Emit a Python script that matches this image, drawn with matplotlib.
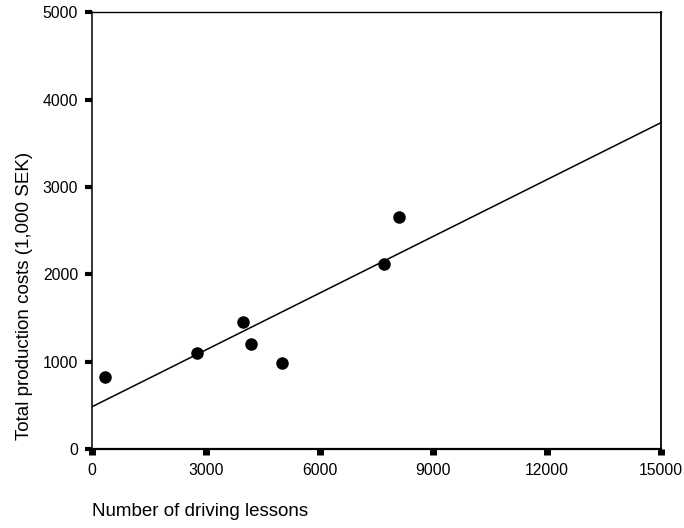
import numpy as np
import matplotlib
matplotlib.use("Agg")
import matplotlib.pyplot as plt

plt.rcParams['font.family'] = ['Liberation Sans', 'DejaVu Sans']

# driving school data: lessons given vs. total production costs
lessons = [343, 2776, 3990, 4183, 5000, 7698, 8094]
costs = [821, 1103, 1455, 1199, 985, 2119, 2661]

x_ticks = [0, 3000, 6000, 9000, 12000, 15000]
y_ticks = [0, 1000, 2000, 3000, 4000, 5000]

fig = plt.figure(figsize=(6.84, 5.28), dpi=100)
ax = fig.add_axes([0.1345, 0.1496, 0.8319, 0.8271])

# least squares line across the full x range
slope, intercept = np.polyfit(lessons, costs, 1)
xs = np.array([0, 15000])
ax.plot(xs, intercept + slope * xs, color='black', lw=1.1, zorder=2)

ax.plot(lessons, costs, 'o', color='black', ms=8, zorder=3, clip_on=False)

ax.set_xlim(0, 15000)
ax.set_ylim(0, 5000)
ax.set_xticks(x_ticks)
ax.set_yticks(y_ticks)

for side, w in [('bottom', 1.6), ('left', 1.1), ('top', 1.0), ('right', 1.3)]:
    ax.spines[side].set_linewidth(w)
    ax.spines[side].set_color('black')

ax.tick_params(axis='x', direction='out', length=4, width=5, pad=6, labelsize=11.3)
ax.tick_params(axis='y', direction='out', length=5, width=3, pad=5, labelsize=11.3)

ax.set_xlabel('Number of driving lessons', fontsize=13.5, loc='left')
ax.xaxis.set_label_coords(0, -0.124)
ax.set_ylabel('Total production costs (1,000 SEK)', fontsize=13.5, loc='bottom')
ax.yaxis.set_label_coords(-0.104, 0.02)

fig.savefig('out.png', dpi=100)
